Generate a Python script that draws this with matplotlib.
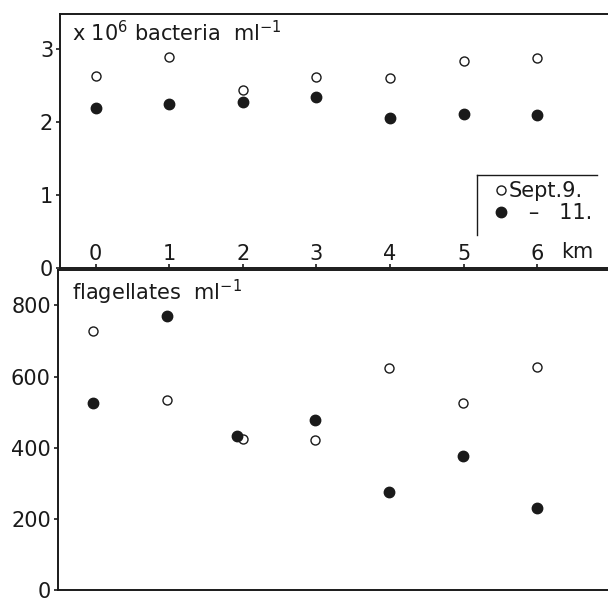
import matplotlib.pyplot as plt

# distance along transect (km)
km = [0, 1, 2, 3, 4, 5, 6]
# bacteria, x10^6 per ml
bact_sep9 = [2.63, 2.89, 2.44, 2.62, 2.60, 2.84, 2.87]
bact_sep11 = [2.19, 2.25, 2.27, 2.34, 2.05, 2.11, 2.09]
# flagellates per ml (station 2 points are slightly offset in the original)
flag_km_sep9 = [0, 1, 2.03, 3, 4, 5, 6]
flag_sep9 = [728, 533, 424, 422, 625, 526, 626]
flag_km_sep11 = [0, 1, 1.94, 3, 4, 5, 6]
flag_sep11 = [526, 770, 433, 477, 275, 376, 232]

bact_ticks = [0, 1, 2, 3]
flag_ticks = [0, 200, 400, 600, 800]

ink = '#1a1a1a'
plt.rcParams['font.family'] = 'DejaVu Sans'
plt.rcParams['mathtext.default'] = 'regular'

fig = plt.figure(figsize=(6.08, 6.01), dpi=100)
ax1 = fig.add_axes([0.099, 0.554, 0.901, 0.423])
ax2 = fig.add_axes([0.095, 0.018, 0.905, 0.533])

for ax in (ax1, ax2):
    ax.set_xlim(-0.48, 6.96)
    ax.spines['right'].set_visible(False)
    for s in ('left', 'top', 'bottom'):
        ax.spines[s].set_linewidth(1.4)
        ax.spines[s].set_color(ink)
    ax.tick_params(axis='y', direction='out', length=3, width=1.2, pad=2,
                   labelsize=15, colors=ink)

# top panel: bacteria
h1, = ax1.plot(km, bact_sep9, 'o', ms=6.5, mfc='white', mec=ink, mew=1.0,
               linestyle='none', label='Sept.9.')
h2, = ax1.plot(km, bact_sep11, 'o', ms=7.5, mfc=ink, mec=ink,
               linestyle='none', label='   –   11.')
ax1.set_ylim(0, 3.48)
ax1.set_yticks(bact_ticks)
ax1.set_xticks(km)
ax1.tick_params(axis='x', direction='in', length=3, width=1.2, pad=-17,
                labelsize=15, colors=ink)
ax1.text(6.33, 0.063, 'km', transform=ax1.get_xaxis_transform(),
         ha='left', va='center', fontsize=15, color=ink)
ax1.text(0.022, 0.975, r'x 10$^6$ bacteria  ml$^{-1}$', transform=ax1.transAxes,
         ha='left', va='top', fontsize=15, color=ink)

leg = ax1.legend(handles=[h1, h2], loc='lower left', bbox_to_anchor=(0.764, 0.112),
                 frameon=False, handlelength=0.5, handletextpad=0.15,
                 labelspacing=0.1, borderpad=0.3, fontsize=15)
for t in leg.get_texts():
    t.set_color(ink)
ax1.plot([0.761, 0.761], [0.13, 0.366], color=ink, lw=1.0, transform=ax1.transAxes,
         clip_on=False)
ax1.plot([0.761, 0.98], [0.366, 0.366], color=ink, lw=1.0, transform=ax1.transAxes,
         clip_on=False)

# bottom panel: flagellates
ax2.plot(flag_km_sep9, flag_sep9, 'o', ms=6.5, mfc='white', mec=ink, mew=1.0,
         linestyle='none')
ax2.plot(flag_km_sep11, flag_sep11, 'o', ms=7.5, mfc=ink, mec=ink,
         linestyle='none')
ax2.set_ylim(0, 900)
ax2.set_yticks(flag_ticks)
ax2.set_xticks([])
ax2.text(0.026, 0.975, r'flagellates  ml$^{-1}$', transform=ax2.transAxes,
         ha='left', va='top', fontsize=15, color=ink)

fig.savefig('out.png', dpi=100)
